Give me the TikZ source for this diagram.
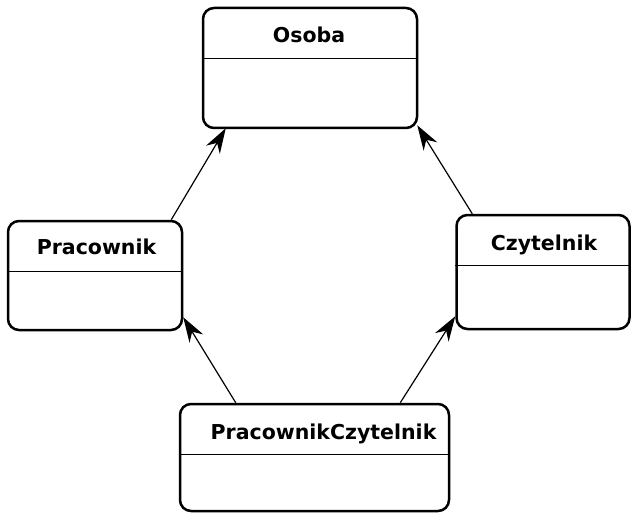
\documentclass[tikz,border=0pt]{standalone}
\usepackage{fontspec}
\setmainfont{DejaVu Sans}
\usetikzlibrary{arrows.meta}
\tikzset{
  classbox/.style={draw=black, line width=2.5pt, rounded corners=11pt, fill=white, inner sep=0pt},
  title/.style={anchor=base, inner sep=0pt, font=\fontsize{20.5}{24}\selectfont\bfseries},
  divider/.style={line width=1pt},
  inherit/.style={line width=1.2pt, -{Stealth[length=25pt,width=16pt,inset=8pt]}}
}
\begin{document}
\begin{tikzpicture}[x=1pt,y=-1pt]
\useasboundingbox (0,0) rectangle (631,513);
% boxes
\node[classbox, minimum width=214pt, minimum height=120pt] (osoba) at (310,68) {};
\node[classbox, minimum width=174pt, minimum height=109pt] (prac) at (95,275.5) {};
\node[classbox, minimum width=173pt, minimum height=114pt] (czyt) at (543,272) {};
\node[classbox, minimum width=269pt, minimum height=107pt] (pc) at (314.5,457.5) {};
% titles
\node[title] (osobat) at (309,43) {Osoba};
\node[title] (pract) at (96.5,254) {Pracownik};
\node[title] (czytt) at (544,250) {Czytelnik};
\node[title] (pct) at (323.5,439) {PracownikCzytelnik};
% dividers
\foreach \n in {osoba,prac,czyt,pc}{
  \draw[divider] ([yshift=-52pt]\n.north west) -- ([yshift=-52pt]\n.north east);
}
% inheritance arrows
\draw[inherit] ([xshift=-12pt]prac.north east) -- ([xshift=24pt,yshift=1pt]osoba.south west);
\draw[inherit] ([xshift=17pt]czyt.north west) -- ([xshift=-1pt,yshift=4pt]osoba.south east);
\draw[inherit] ([xshift=57pt]pc.north west) -- ([yshift=14pt]prac.south east);
\draw[inherit] ([xshift=-50pt]pc.north east) -- ([yshift=14pt]czyt.south west);
\end{tikzpicture}
\end{document}
